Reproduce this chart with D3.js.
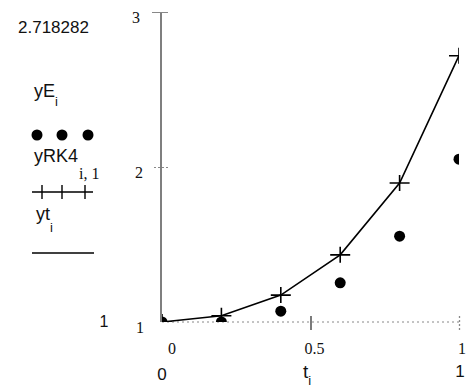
<!DOCTYPE html>
<html>
<head>
<meta charset="utf-8">
<script src="https://cdn.jsdelivr.net/npm/d3@7"></script>
<style>
  body { margin: 0; background: #fff; }
  svg { display: block; }
  .lbl { font-family: "Liberation Sans", Arial, sans-serif; fill: #111; }
  .num { font-family: "Liberation Serif", "Times New Roman", serif; fill: #111; }
</style>
</head>
<body>
<div id="chart"></div>
<script>
// values
var t = [0, 0.2, 0.4, 0.6, 0.8, 1]
var yE = [1, 1, 1.07, 1.2528, 1.5535, 2.0506]
var yRK4 = [1, 1.0408, 1.1735, 1.4333, 1.8964, 2.7181]
var yt = [1, 1.0408, 1.1735, 1.4333, 1.8965, 2.7183]
var xTicks = [0, 0.5, 1]
var xTickLabels = ["0", "0.5", "1"]
var yTicks = [1, 2, 3]
var yTickLabels = ["1", "2", "3"]

var width = 473
var height = 389

var svg = d3.select("#chart").append("svg").attr("width", width).attr("height", height)

var x = d3.scaleLinear().domain([0, 1]).range([162, 459])
var y = d3.scaleLinear().domain([1, 3]).range([322, 12])

svg.append("clipPath").attr("id", "plot-clip")
    .append("rect")
    .attr("x", x(0)).attr("y", y(3) - 12)
    .attr("width", x(1) - x(0)).attr("height", y(1) - y(3) + 12)

// x axis (dotted baseline)
var xAxis = svg.append("g")
    .attr("transform", "translate(0," + y(1) + ")")
    .call(d3.axisBottom(x).tickValues([0.5, 1]).tickSize(8).tickFormat(""))
xAxis.select(".domain").attr("stroke", "#888").attr("stroke-dasharray", "2,3").attr("d", "M" + x(0) + ",0H" + x(1))
xAxis.selectAll(".tick line").attr("y1", -6).attr("y2", 8).attr("stroke", "#333").attr("stroke-width", 1.3)
xAxis.selectAll(".tick").filter(d => d === 1).select("line").attr("stroke", "#888").attr("stroke-dasharray", "2,2")

// y axis
var yAxis = svg.append("g")
    .attr("transform", "translate(" + (x(0) - 1) + ",0)")
    .call(d3.axisLeft(y).tickValues([2, 3]).tickSize(9).tickFormat(""))
yAxis.select(".domain").attr("stroke", "#555").attr("stroke-width", 1.5).attr("d", "M0," + y(3) + "V" + y(1))
yAxis.selectAll(".tick line").attr("x2", -9).attr("x1", 7).attr("stroke", "#888")
yAxis.selectAll(".tick").filter(d => d === 2).select("line").attr("stroke-dasharray", "2,2")

// tick labels
svg.selectAll(".ytl").data(yTicks).enter().append("text")
    .attr("class", "num")
    .attr("x", (d, i) => [140, 139, 136][i])
    .attr("y", d => y(d) + 11)
    .attr("text-anchor", "middle")
    .style("font-size", "16px")
    .text((d, i) => yTickLabels[i])

svg.selectAll(".xtl").data(xTicks).enter().append("text")
    .attr("class", "num")
    .attr("x", (d, i) => x(d) + [10, 4, 3][i])
    .attr("y", 354)
    .attr("text-anchor", "middle")
    .style("font-size", "16px")
    .text((d, i) => xTickLabels[i])

// limit labels
svg.append("text").attr("class", "lbl").attr("x", 18).attr("y", 33).style("font-size", "17px").text("2.718282")
svg.append("text").attr("class", "lbl").attr("x", 104).attr("y", 327).attr("text-anchor", "middle").style("font-size", "16px").text("1")
svg.append("text").attr("class", "lbl").attr("x", x(0)).attr("y", 380).attr("text-anchor", "middle").style("font-size", "17px").text("0")
svg.append("text").attr("class", "lbl").attr("x", x(1) + 1).attr("y", 377).attr("text-anchor", "middle").style("font-size", "17px").text("1")

// axis title
var xt = svg.append("text").attr("class", "lbl").attr("x", 303).attr("y", 378).style("font-size", "19px")
xt.append("tspan").text("t")
xt.append("tspan").attr("dy", 7).style("font-size", "13px").text("i")

// plot marks
var plot = svg.append("g").attr("clip-path", "url(#plot-clip)")

var line = d3.line().x((d, i) => x(t[i])).y(d => y(d))
plot.append("path")
    .datum(yt)
    .attr("fill", "none")
    .attr("stroke", "#000")
    .attr("stroke-width", 1.6)
    .attr("d", line)

plot.selectAll(".dot").data(yE).enter().append("circle")
    .attr("class", "dot")
    .attr("cx", (d, i) => x(t[i]))
    .attr("cy", d => y(d))
    .attr("r", 5.5)
    .attr("fill", "#000")

plot.selectAll(".plus").data(yRK4).enter().append("path")
    .attr("class", "plus")
    .attr("d", (d, i) => "M" + (x(t[i]) - 10) + "," + y(d) + "H" + (x(t[i]) + 10) + "M" + x(t[i]) + "," + (y(d) - 8) + "V" + (y(d) + 8))
    .attr("stroke", "#000")
    .attr("stroke-width", 1.6)
    .attr("fill", "none")

// legend
var leg1 = svg.append("text").attr("class", "lbl").attr("x", 34).attr("y", 97).style("font-size", "18px")
leg1.append("tspan").text("yE")
leg1.append("tspan").attr("dy", 9).style("font-size", "13px").text("i")

svg.selectAll(".ldot").data([37, 62, 88]).enter().append("circle")
    .attr("cx", d => d).attr("cy", 135).attr("r", 5.5).attr("fill", "#000")

var leg2 = svg.append("text").attr("class", "lbl").attr("x", 34).attr("y", 162).style("font-size", "18px")
leg2.append("tspan").text("yRK4")
leg2.append("tspan").attr("dy", 17).attr("dx", 1).attr("class", "num").style("font-size", "16px").text("i, 1")

svg.append("path")
    .attr("d", "M32,192H93M42,185V199M62,185V199M85,185V199")
    .attr("stroke", "#000").attr("stroke-width", 1.4).attr("fill", "none")

var leg3 = svg.append("text").attr("class", "lbl").attr("x", 36).attr("y", 220).style("font-size", "18px")
leg3.append("tspan").text("yt")
leg3.append("tspan").attr("dy", 12).style("font-size", "13px").text("i")

svg.append("line").attr("x1", 32).attr("x2", 94).attr("y1", 253).attr("y2", 253)
    .attr("stroke", "#000").attr("stroke-width", 1.5)
</script>
</body>
</html>
